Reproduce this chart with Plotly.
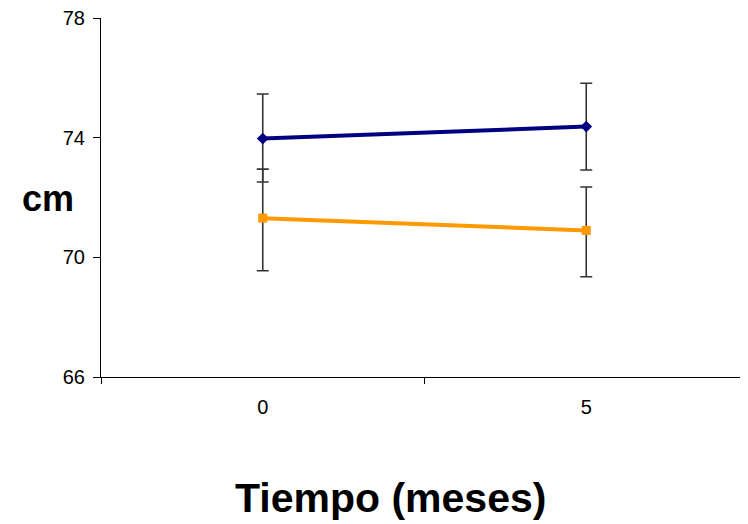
import plotly.graph_objects as go

categories = ["0", "5"]
blue_vals = [73.97, 74.37]
blue_err_plus = [1.49, 1.45]
blue_err_minus = [1.45, 1.45]
orange_vals = [71.31, 70.90]
orange_err_plus = [1.64, 1.45]
orange_err_minus = [1.76, 1.55]
y_ticks = [66, 70, 74, 78]

# page has an 8px body margin; figure laid out in page coordinates minus 8
W, H = 740, 516
L, R, T, B = 93, 0, 10, 147

fig = go.Figure()
fig.add_trace(go.Scatter(
    x=categories, y=orange_vals, mode="lines+markers",
    line=dict(color="#FF9900", width=4),
    marker=dict(symbol="square", size=9, color="#FF9900"),
    error_y=dict(type="data", symmetric=False, array=orange_err_plus, arrayminus=orange_err_minus,
                 color="#333333", thickness=1.6, width=6),
    showlegend=False,
))
fig.add_trace(go.Scatter(
    x=categories, y=blue_vals, mode="lines+markers",
    line=dict(color="#000080", width=4),
    marker=dict(symbol="diamond", size=9, color="#000080"),
    error_y=dict(type="data", symmetric=False, array=blue_err_plus, arrayminus=blue_err_minus,
                 color="#333333", thickness=1.6, width=6),
    showlegend=False,
))

fig.update_layout(
    width=W, height=H,
    margin=dict(l=L, r=R, t=T, b=B),
    paper_bgcolor="white", plot_bgcolor="white",
    font=dict(family="Liberation Sans, Arial, sans-serif", color="black"),
    xaxis=dict(type="category", range=[-0.5, 1.5], showline=True, linecolor="black", linewidth=1,
               ticks="outside", tickson="boundaries", ticklen=6, tickcolor="black",
               showgrid=False, zeroline=False, tickfont=dict(size=20), ticklabelstandoff=12,
               ticklabeloverflow="allow", automargin=False),
    yaxis=dict(range=[66, 78], tickvals=y_ticks, showline=True, linecolor="black", linewidth=1,
               ticks="outside", ticklen=7, tickcolor="black", showgrid=False, zeroline=False,
               tickfont=dict(size=20), ticklabelstandoff=4, ticklabeloverflow="allow",
               automargin=False),
    annotations=[
        dict(text="<b>cm</b>", x=48 - 8, y=198 - 8, xref="paper", yref="paper", showarrow=False,
             xanchor="center", yanchor="middle", font=dict(size=36)),
        dict(text="<b>Tiempo (meses)</b>", x=390 - 8, y=498 - 8, xref="paper", yref="paper",
             xanchor="center", yanchor="middle", showarrow=False, font=dict(size=41)),
    ],
)
pw = W - L - R
ph = H - T - B
for a in fig.layout.annotations:
    a.x = (a.x - L) / pw
    a.y = (H - B - a.y) / ph
fig.write_html("out.html")
